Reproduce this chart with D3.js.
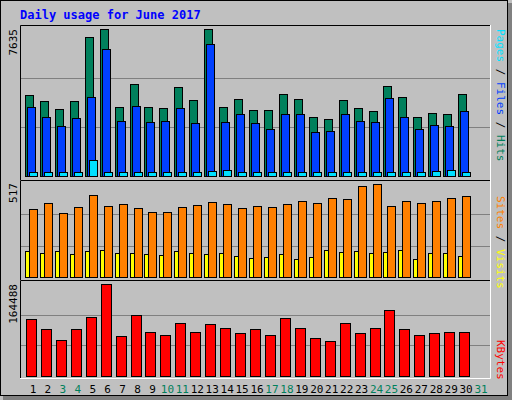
<!DOCTYPE html>
<html><head><meta charset="utf-8">
<script src="https://cdn.jsdelivr.net/npm/d3@7"></script>
<style>body{margin:0;background:#fff}svg{display:block}text{font-family:"DejaVu Sans Mono",monospace}</style>
</head><body><svg id="c" width="512" height="400"></svg>
<script>
var days = d3.range(1, 32);
var weekend = [3, 4, 10, 11, 17, 18, 24, 25, 31];
var hits = [4207,3896,3480,3896,7220,7635,3584,4778,3584,3532,4623,3948,7635,3584,3999,3428,3428,4259,3999,3064,2961,3948,3532,3376,4675,4103,3064,3272,3220,4259];
var files = [3584,3064,2597,3013,4103,6596,2857,3636,2805,2857,3532,2753,6856,2805,3220,2753,2441,3220,3220,2285,2337,3220,2857,2805,4051,3064,2441,2649,2597,3376];
var pages = [208,208,208,208,831,208,208,208,208,208,208,208,260,312,208,208,208,208,208,208,208,208,208,208,208,208,208,260,312,208];
var visits = [372,405,350,383,449,389,400,378,356,356,383,394,411,400,378,389,383,400,416,405,433,427,499,510,389,416,405,416,433,444];
var sites = [141,130,141,125,141,147,130,130,125,119,141,130,125,130,114,103,108,125,97,108,147,136,141,130,136,147,97,130,130,114];
var kbytes = [101374,83495,63828,83495,104950,163950,70979,108526,78131,72767,94222,78131,92434,85283,76343,83495,72767,103162,85283,67404,62040,94222,76343,85283,117466,83495,72767,76343,78131,78131];
var maxHits = 7635, maxVisits = 517, maxKB = 164488;

var svg = d3.select("#c");
svg.append("rect").attr("x",0).attr("y",0).attr("width",512).attr("height",400).attr("fill","#c0c0c0");
svg.append("rect").attr("x",0.5).attr("y",0.5).attr("width",507).attr("height",395).attr("fill","none").attr("stroke","#000");
svg.append("rect").attr("x",508).attr("y",3).attr("width",4).attr("height",397).attr("fill","#808080");
svg.append("rect").attr("x",3).attr("y",396).attr("width",509).attr("height",4).attr("fill","#808080");

svg.append("text").attr("x",20).attr("y",19).attr("fill","#0000ff").attr("font-size",12).attr("font-weight","bold").text("Daily usage for June 2017");

var x = d3.scaleBand().domain(days).range([25, 488]);

function panel(top, bottom, base, ytop) {
  svg.append("path").attr("d","M20.5," + bottom + "V" + top + ".5H490").attr("fill","none").attr("stroke","#000");
  svg.append("path").attr("d","M20," + (bottom + 0.5) + "H490.5V" + top).attr("fill","none").attr("stroke","#fff");
}
function grid(y) {
  [1/3, 2/3].forEach(function (f) {
    var v = y.domain()[1] * f;
    svg.append("line").attr("x1",21).attr("x2",490).attr("y1",Math.round(y(v))+0.5).attr("y2",Math.round(y(v))+0.5).attr("stroke","#808080");
  });
}
function bars(data, y, dx, w, color) {
  svg.append("g").selectAll("rect").data(data).join("rect")
    .attr("x", function (d, i) { return Math.round(x(i + 1)) + dx + 0.5; })
    .attr("y", function (d) { return Math.round(y(d)) + 0.5; })
    .attr("width", w)
    .attr("height", function (d) { return Math.round(y(0)) - Math.round(y(d)); })
    .attr("fill", color).attr("stroke", "#000");
}
function leftLabel(txt, ytop) {
  svg.append("text").attr("transform","translate(17," + ytop + ") rotate(-90)").attr("text-anchor","end")
    .attr("font-size",11).attr("fill","#000").text(txt);
}
function rightLabel(parts, ytop) {
  var t = svg.append("text").attr("transform","translate(497," + ytop + ") rotate(90)").attr("font-size",11);
  parts.forEach(function (p) { t.append("tspan").attr("fill", p[1]).text(p[0]); });
}

// top panel
panel(25, 180);
var y1 = d3.scaleLinear().domain([0, maxHits]).range([176, 29]);
grid(y1);
bars(hits, y1, 0, 8, "#00805c");
bars(files, y1, 2, 8, "#0040ff");
bars(pages, y1, 4, 8, "#00e0ff");
leftLabel(maxHits, 29);
rightLabel([["Pages","#00e0ff"],[" / ","#000"],["Files","#0040ff"],[" / ","#000"],["Hits","#00805c"]], 29);

// middle panel
panel(180, 280);
var y2 = d3.scaleLinear().domain([0, maxVisits]).range([277, 183]);
grid(y2);
bars(sites, y2, 0, 4, "#ffff00");
bars(visits, y2, 4, 8, "#ff8000");
leftLabel(maxVisits, 183);
rightLabel([["Sites","#ff8000"],[" / ","#000"],["Visits","#ffff00"]], 196);

// bottom panel
panel(280, 378);
var y3 = d3.scaleLinear().domain([0, maxKB]).range([376, 284]);
grid(y3);
bars(kbytes, y3, 1, 10, "#ff0000");
leftLabel(maxKB, 284);
rightLabel([["KBytes","#ff0000"]], 340);

svg.append("g").selectAll("text").data(days).join("text")
  .attr("x", function (d) { return x(d) + 8; })
  .attr("y", 393).attr("text-anchor","middle").attr("font-size",11)
  .attr("fill", function (d) { return weekend.indexOf(d) >= 0 ? "#00805c" : "#000"; })
  .text(function (d) { return d; });
</script></body></html>
